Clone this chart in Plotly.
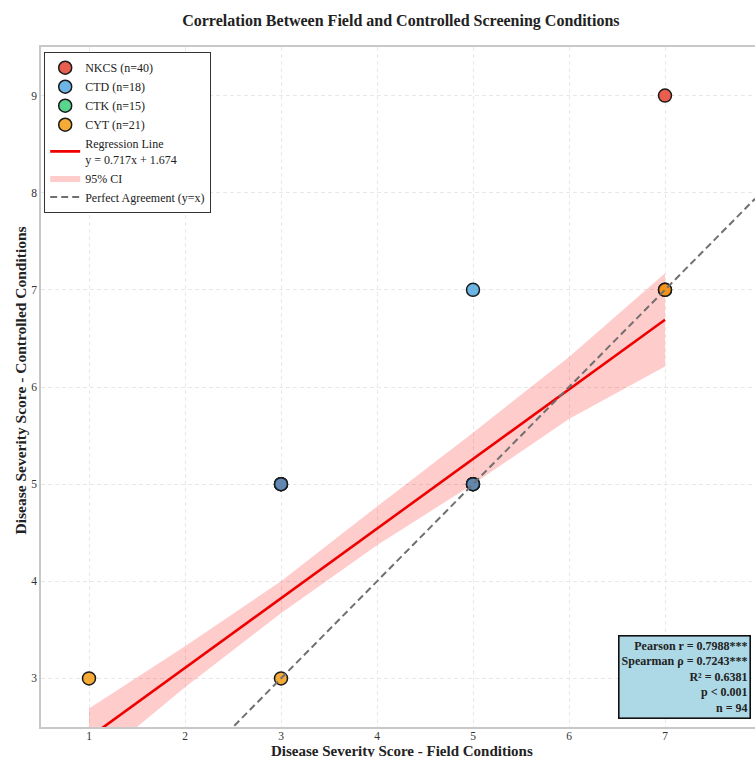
import plotly.graph_objects as go

# ---------------- data ----------------
groups = ["NKCS", "CTD", "CTK", "CYT"]
group_n = [40, 18, 15, 21]
group_colors = ["rgba(231,76,60,0.9)", "rgba(52,152,219,0.72)",
                "rgba(46,204,113,0.8)", "rgba(243,156,18,0.85)"]

nkcs_field = [7, 3, 5, 7]
nkcs_ctrl = [9, 5, 5, 7]
ctd_field = [5, 3, 5]
ctd_ctrl = [7, 5, 5]
ctk_field = [3, 5]
ctk_ctrl = [5, 5]
cyt_field = [1, 3, 7]
cyt_ctrl = [3, 3, 7]

slope = 0.717
intercept = 1.674
fit_x = [1, 7]

ci_x = [1, 2, 3, 4, 5, 6, 7]
ci_upper = [2.69, 3.33, 4.00, 4.77, 5.53, 6.31, 7.17]
ci_lower = [2.09, 2.91, 3.67, 4.37, 5.00, 5.67, 6.21]

pearson_r = 0.7988
spearman_rho = 0.7243
r_squared = 0.6381
n_total = 94

x_ticks = [1, 2, 3, 4, 5, 6, 7]
y_ticks = [3, 4, 5, 6, 7, 8, 9]
x_range = [0.5, 7.9375]
y_range = [2.5, 9.5]

FONT = "Liberation Serif, Times New Roman, serif"

fig = go.Figure()

# CI band
fig.add_trace(go.Scatter(
    x=ci_x + ci_x[::-1], y=ci_upper + ci_lower[::-1],
    fill="toself", fillcolor="rgba(255,0,0,0.2)", line=dict(width=0),
    mode="lines", name="95% CI", legendrank=6, hoverinfo="skip"))

# regression line
fit_y = [slope * v + intercept for v in fit_x]
fig.add_trace(go.Scatter(
    x=fit_x, y=fit_y, mode="lines", line=dict(color="#ee0000", width=2.6),
    name=f"Regression Line<br>y = {slope}x + {intercept}", legendrank=5))

# group scatter (draw order chosen so the overlap colours match)
series = {
    "NKCS": (nkcs_field, nkcs_ctrl),
    "CTD": (ctd_field, ctd_ctrl),
    "CTK": (ctk_field, ctk_ctrl),
    "CYT": (cyt_field, cyt_ctrl),
}
draw_order = ["CTK", "NKCS", "CTD", "CYT"]
for g in draw_order:
    i = groups.index(g)
    fx, fy = series[g]
    fig.add_trace(go.Scatter(
        x=fx, y=fy, mode="markers", name=f"{g} (n={group_n[i]})",
        legendrank=i + 1,
        marker=dict(size=13, color=group_colors[i],
                    line=dict(color="#1a1a1a", width=1.5))))

# perfect agreement line y = x across axis range
fig.add_trace(go.Scatter(
    x=x_range, y=x_range, mode="lines",
    line=dict(color="#707070", width=2, dash="7px,4px"),
    name="Perfect Agreement (y=x)", legendrank=7))

stats_text = (f"Pearson r = {pearson_r:.4f}***<br>"
              f"Spearman ρ = {spearman_rho:.4f}***<br>"
              f"R² = {r_squared:.4f}<br>"
              f"p < 0.001<br>"
              f"n = {n_total}")

axis_common = dict(
    showgrid=True, gridcolor="#e8e8e8", gridwidth=0.8, griddash="4px,3px",
    showline=True, linecolor="#c8c8c8", linewidth=1.6, mirror=True,
    ticks="", tickfont=dict(family=FONT, size=11.5, color="#333333"),
    zeroline=False, automargin=False)

fig.update_layout(
    width=755, height=757,
    margin=dict(l=41, r=0, t=47, b=30),
    paper_bgcolor="white", plot_bgcolor="white",
    font=dict(family=FONT, color="#222222"),
    title=dict(text="Correlation Between Field and Controlled Screening Conditions",
               font=dict(family=FONT, size=16, color="#222222", weight="bold"),
               x=0.504, xref="paper", xanchor="center", y=0.973, yanchor="middle"),
    xaxis=dict(range=x_range, tickvals=x_ticks, ticklabelstandoff=-3, **axis_common),
    yaxis=dict(range=y_range, tickvals=y_ticks, **axis_common),
    legend=dict(x=0.0042, y=0.9926, xanchor="left", yanchor="top",
                bgcolor="white", bordercolor="#333333", borderwidth=1.2,
                font=dict(family=FONT, size=12, color="#222222"),
                tracegroupgap=0),
    showlegend=True,
    annotations=[
        dict(text=stats_text, xref="paper", yref="paper", x=0.994, y=0.012,
             xanchor="right", yanchor="bottom", align="right", showarrow=False,
             font=dict(family=FONT, size=12, color="#222222", weight="bold"),
             bgcolor="#add8e6", bordercolor="#111111", borderwidth=1.6,
             borderpad=2),
        dict(text="Disease Severity Score - Field Conditions", xref="paper",
             yref="paper", x=0.505, y=-0.0225, xanchor="center", yanchor="top",
             showarrow=False, borderpad=0,
             font=dict(family=FONT, size=15, color="#222222", weight="bold")),
        dict(text="Disease Severity Score - Controlled Conditions", xref="paper",
             yref="paper", x=-0.029, y=0.51, xanchor="center", yanchor="middle",
             textangle=-90, showarrow=False,
             font=dict(family=FONT, size=15.5, color="#222222", weight="bold")),
    ],
)

fig.write_html(
    "out.html",
    config={"displayModeBar": False},
    post_script="document.body.style.margin='0';"
                "document.documentElement.style.overflow='hidden';")
